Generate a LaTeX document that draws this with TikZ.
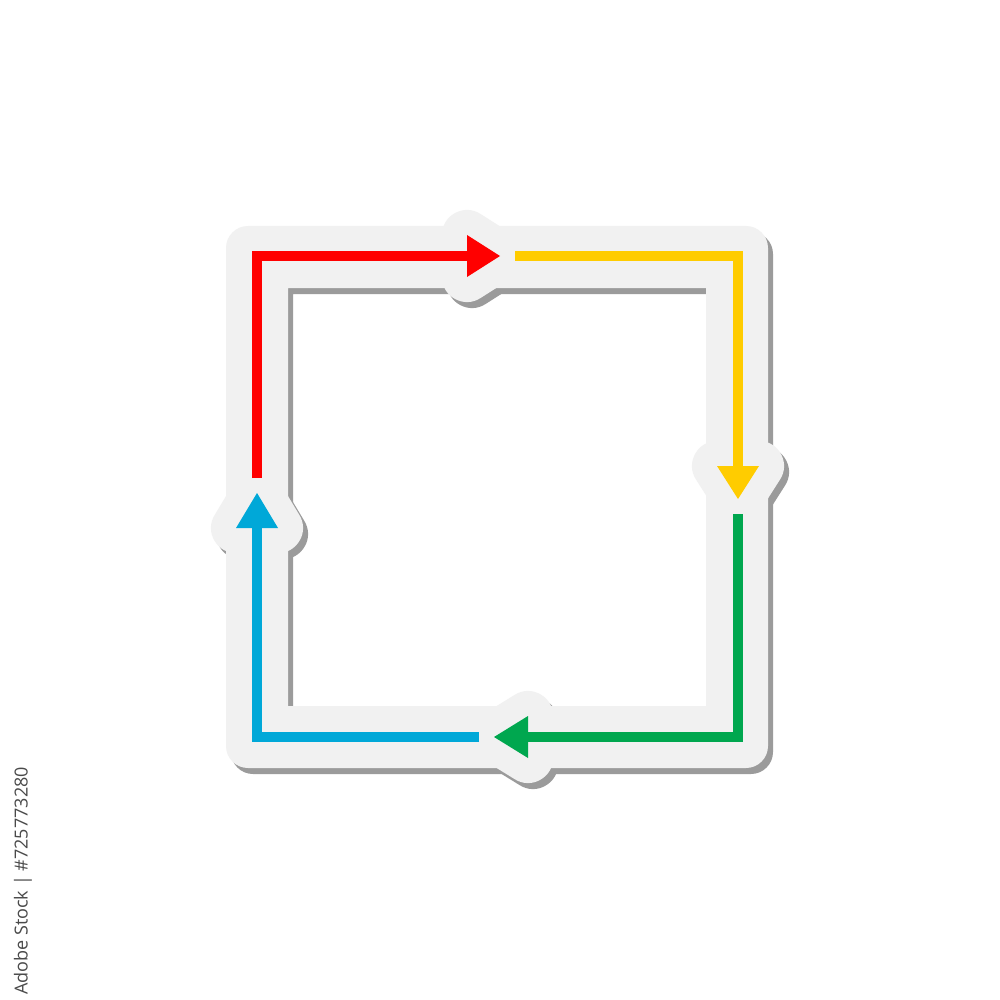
\documentclass[tikz,border=0pt]{standalone}
\usepackage{fontspec}
\newfontfamily\wmfont{Open Sans}
\definecolor{bandc}{HTML}{F1F1F1}
\definecolor{shadc}{HTML}{9B9B9B}
\definecolor{redc}{HTML}{FF0000}
\definecolor{yelc}{HTML}{FFCC00}
\definecolor{grnc}{HTML}{00A74F}
\definecolor{bluc}{HTML}{00A8D8}
\definecolor{wmgray}{HTML}{4A4A4A}
\newcommand\stickershape[1]{%
  \fill[#1,even odd rule] [rounded corners=22pt] (226,226) rectangle (768,768) [sharp corners] (288,288) rectangle (706,706);
  \filldraw[#1,line width=50pt,line join=round] (467,235) -- (500,256) -- (467,277) -- cycle;
  \filldraw[#1,line width=50pt,line join=round] (717,466) -- (759,466) -- (738,499) -- cycle;
  \filldraw[#1,line width=50pt,line join=round] (528,716) -- (494,737) -- (528,758) -- cycle;
  \filldraw[#1,line width=50pt,line join=round] (236,528) -- (278,528) -- (257,493) -- cycle;
}
\begin{document}
\begin{tikzpicture}[x=1pt,y=-1pt,
  seg/.style={line width=10pt,line cap=butt,line join=miter},
  headfill/.style={draw=none}]
\fill[white] (0,0) rectangle (1000,1000);
\useasboundingbox (0,0) rectangle (1000,1000);
% shadow and sticker band
\begin{scope}[shift={(5,6)}]
  \stickershape{shadc}
\end{scope}
\stickershape{bandc}
% corner and end coordinates
\coordinate (tl) at (257,256);
\coordinate (tr) at (738,256);
\coordinate (br) at (738,737);
\coordinate (bl) at (257,737);
\coordinate (rs) at (257,478);
\coordinate (re) at (468,256);
\coordinate (ys) at (515,256);
\coordinate (ye) at (738,467);
\coordinate (gs) at (738,514);
\coordinate (ge) at (527,737);
\coordinate (bs) at (479,737);
\coordinate (be) at (257,527);
% red
\draw[seg,redc] (rs) -- (tl) -- (re);
\fill[redc] (467,235) -- (500,256) -- (467,277) -- cycle;
% yellow
\draw[seg,yelc] (ys) -- (tr) -- (ye);
\fill[yelc] (717,466) -- (759,466) -- (738,499) -- cycle;
% green
\draw[seg,grnc] (gs) -- (br) -- (ge);
\fill[grnc] (528,716) -- (494,737) -- (528,758) -- cycle;
% blue
\draw[seg,bluc] (bs) -- (bl) -- (be);
\fill[bluc] (236,528) -- (278,528) -- (257,493) -- cycle;
% stock id
\node[rotate=90,font=\wmfont\fontsize{18}{18}\selectfont,text=wmgray,inner sep=0pt] (wm) at (23,881) {Adobe Stock | \#725773280};
\end{tikzpicture}
\end{document}
